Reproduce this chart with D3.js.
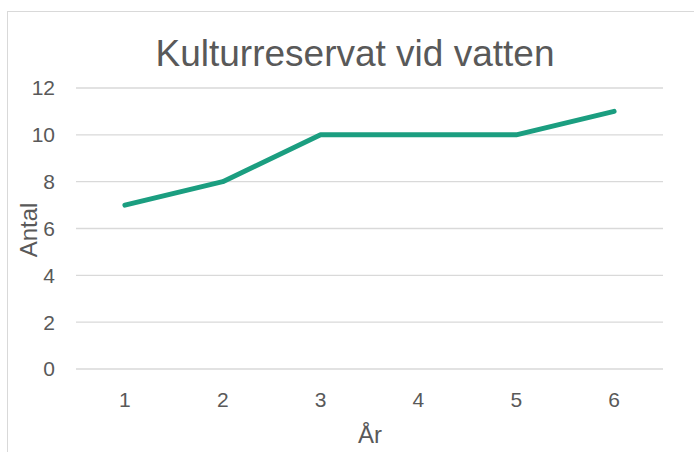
<!DOCTYPE html>
<html>
<head>
<meta charset="utf-8">
<script src="https://cdn.jsdelivr.net/npm/d3@7"></script>
<style>
body { margin: 0; background: #fff; }
text { font-family: "Liberation Sans", Arial, sans-serif; fill: #595959; }
</style>
</head>
<body>
<script>
// chart data
var years = ["1", "2", "3", "4", "5", "6"];
var counts = [7, 8, 10, 10, 10, 11];
var yTicks = [0, 2, 4, 6, 8, 10, 12];

var svg = d3.select("body").append("svg")
	.attr("width", 694).attr("height", 452);

// outer chart border (only top and left visible)
svg.append("rect")
	.attr("x", 7.5).attr("y", 11.5)
	.attr("width", 720).attr("height", 480)
	.style("fill", "none").style("stroke", "#d9d9d9").style("stroke-width", 1);

// plot area (note: "top" is reserved on window, so use other names)
var plotLeft = 76, plotRight = 663, plotTop = 88, plotBottom = 369;

var x = d3.scalePoint().domain(years).range([plotLeft, plotRight]).padding(0.5);
var y = d3.scaleLinear().domain([0, 12]).range([plotBottom, plotTop]);

// gridlines
svg.append("g").selectAll("line")
	.data(yTicks).enter().append("line")
	.attr("x1", plotLeft).attr("x2", plotRight)
	.attr("y1", function (d) { return y(d); })
	.attr("y2", function (d) { return y(d); })
	.style("stroke", "#d9d9d9").style("stroke-width", 1.3);

// y tick labels
svg.append("g").selectAll("text")
	.data(yTicks).enter().append("text")
	.attr("x", 55).attr("y", function (d) { return y(d); })
	.attr("dy", "0.35em").attr("text-anchor", "end")
	.style("font-size", "21px")
	.text(function (d) { return d; });

// x tick labels
svg.append("g").selectAll("text")
	.data(years).enter().append("text")
	.attr("x", function (d) { return x(d); }).attr("y", 407)
	.attr("text-anchor", "middle")
	.style("font-size", "21px")
	.text(function (d) { return d; });

// line
var line = d3.line()
	.x(function (d, i) { return x(years[i]); })
	.y(function (d) { return y(d); });

svg.append("path").datum(counts)
	.attr("d", line)
	.style("fill", "none").style("stroke", "#1b9e80")
	.style("stroke-width", 5).style("stroke-linecap", "round")
	.style("stroke-linejoin", "round");

// titles
svg.append("text").attr("x", 355).attr("y", 66)
	.attr("text-anchor", "middle").style("font-size", "37px")
	.text("Kulturreservat vid vatten");

svg.append("text").attr("x", 370).attr("y", 443)
	.attr("text-anchor", "middle").style("font-size", "24px")
	.text("År");

svg.append("text")
	.attr("transform", "translate(37,230) rotate(-90)")
	.attr("text-anchor", "middle").style("font-size", "24px")
	.text("Antal");
</script>
</body>
</html>
